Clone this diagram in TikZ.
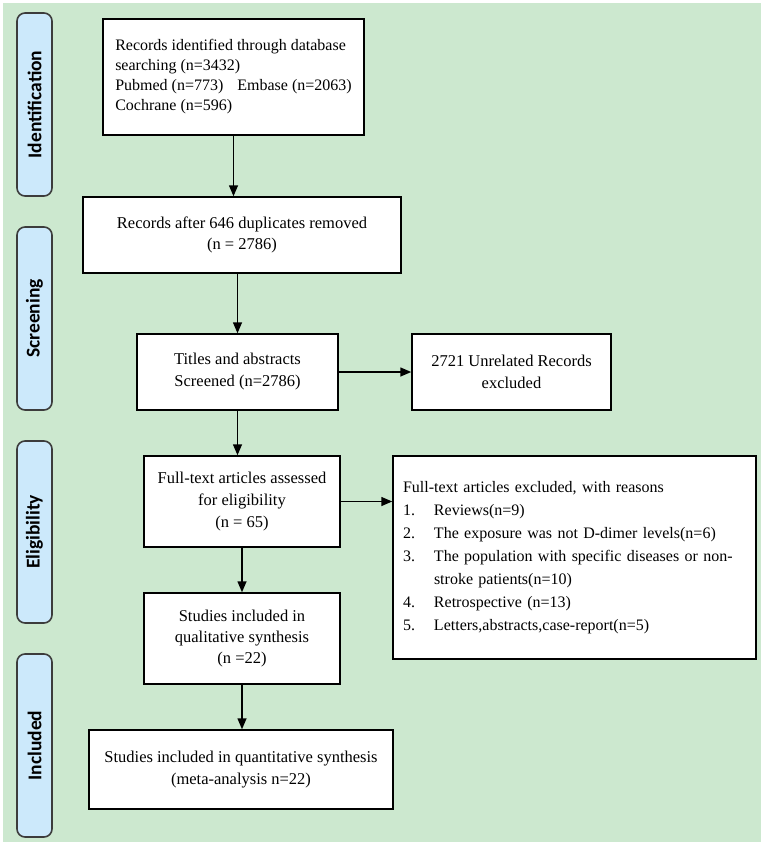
\documentclass[tikz,border=0pt]{standalone}
\usepackage{fontspec}
\setmainfont{Liberation Serif}
\newfontfamily\sidefont{Carlito}
\usetikzlibrary{arrows.meta}
\definecolor{bggreen}{RGB}{204,232,207}
\definecolor{sideblue}{RGB}{204,233,251}
\definecolor{sideedge}{RGB}{60,60,60}
\tikzset{
  box/.style={draw=black, line width=1.5pt, fill=white, inner sep=0pt, align=center,
    font=\fontsize{16.5}{21}\selectfont},
  side/.style={draw=sideedge, line width=1.6pt, fill=sideblue, rounded corners=8pt,
    inner sep=0pt, minimum width=35pt, font=\sidefont\bfseries\fontsize{19.5}{22}\selectfont},
  flow/.style={line width=1.5pt, -{Triangle[length=11pt,width=9pt]}}
}
\begin{document}
\begin{tikzpicture}[x=1pt,y=-1pt]
\useasboundingbox (0,0) rectangle (765,846);
\fill[bggreen] (3,3) rectangle (761,842);
% side labels
\node[side, minimum height=183pt] (s1) at (34.5,104.5) {\rotatebox{90}{Identification}};
\node[side, minimum height=183pt] (s2) at (34.5,318.5) {\rotatebox{90}{Screening}};
\node[side, minimum height=182pt] (s3) at (34.5,532) {\rotatebox{90}{Eligibility}};
\node[side, minimum height=183pt] (s4) at (34.5,745.5) {\rotatebox{90}{Included}};
% boxes
\node[box, minimum width=261pt, minimum height=116pt, align=left,
  font=\fontsize{16}{20}\selectfont] (b1) at (233.5,77)
  {Records identified through database\\searching (n=3432)\\Pubmed (n=773)\hspace{14pt}Embase (n=2063)\\Cochrane (n=596)};
\node[box, minimum width=318pt, minimum height=76pt] (b2) at (242,235)
  {Records after 646 duplicates removed\\(n = 2786)};
\node[box, minimum width=201pt, minimum height=76pt, font=\fontsize{16.5}{22}\selectfont] (b3) at (237.5,372)
  {Titles and abstracts\\Screened (n=2786)};
\node[box, minimum width=199pt, minimum height=76pt, font=\fontsize{16.5}{22}\selectfont] (b4) at (511.5,372)
  {2721 Unrelated Records\\excluded};
\node[box, minimum width=196pt, minimum height=91pt, font=\fontsize{16.5}{22}\selectfont] (b5) at (242,501.5)
  {Full-text articles assessed\\for eligibility\\(n = 65)};
\node[box, minimum width=363pt, minimum height=203pt, text width=343pt, align=left,
  font=\fontsize{16}{23}\selectfont] (b6) at (574.5,557.5)
  {Full-text articles excluded, with reasons\\
   \makebox[31pt][l]{1.}Reviews(n=9)\\
   \makebox[31pt][l]{2.}The exposure was not D-dimer levels(n=6)\\
   \makebox[31pt][l]{3.}The population with specific diseases or non-\\
   \hspace*{31pt}stroke patients(n=10)\\
   \makebox[31pt][l]{4.}Retrospective (n=13)\\
   \makebox[31pt][l]{5.}Letters,abstracts,case-report(n=5)};
\node[box, minimum width=196pt, minimum height=91pt] (b7) at (242,638.5)
  {Studies included in\\qualitative synthesis\\(n =22)};
\node[box, minimum width=304pt, minimum height=79pt, font=\fontsize{16.5}{22}\selectfont] (b8) at (241,769.5)
  {Studies included in quantitative synthesis\\(meta-analysis n=22)};
% connectors
\draw[flow] (b1.south) -- (b1.south |- b2.north);
\draw[flow] (b3.north |- b2.south) -- (b3.north);
\draw[flow] (b3.east) -- (b4.west);
\draw[flow] (b3.south) -- (b3.south |- b5.north);
\draw[flow] (b5.east) -- (b5.east -| b6.west);
\draw[flow] (b5.south) -- (b7.north);
\draw[flow] (b7.south) -- (b7.south |- b8.north);
\end{tikzpicture}
\end{document}
